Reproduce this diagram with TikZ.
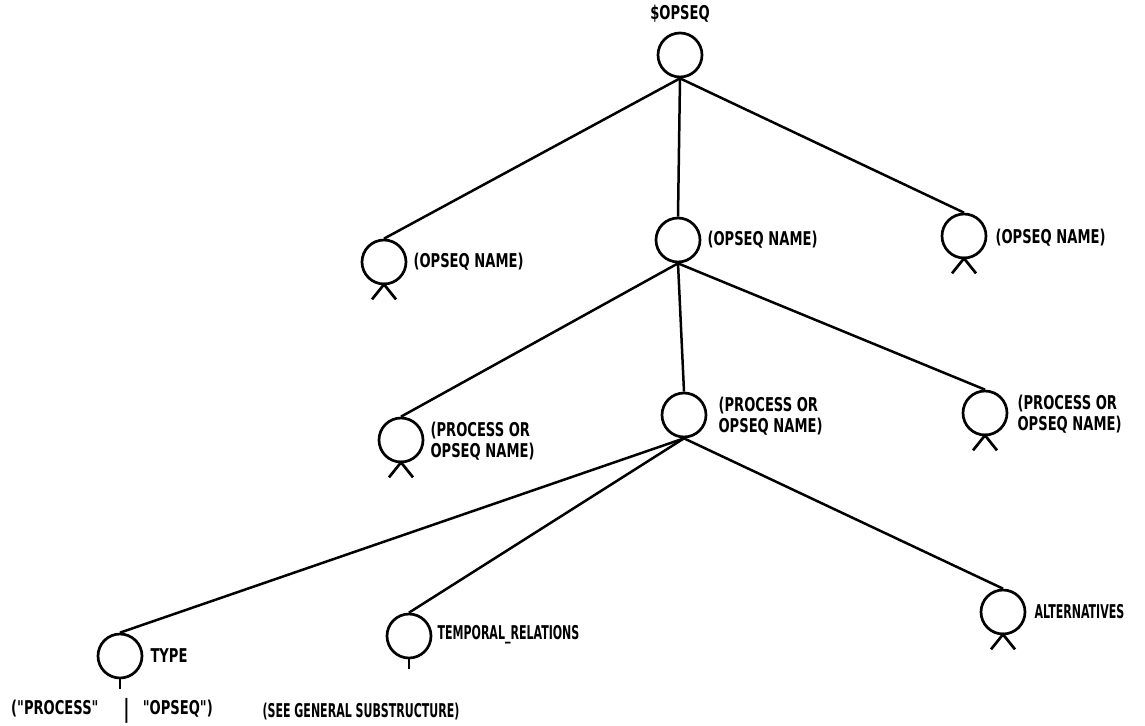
\documentclass[tikz,border=0pt]{standalone}
\usepackage{fontspec}
\newfontfamily\lblfont{DejaVu Sans}[FakeStretch=0.69]
\newfontfamily\lblnarrow{DejaVu Sans}[FakeStretch=0.58]
\begin{document}
\begin{tikzpicture}[x=1pt,y=-1pt,
  vertex/.style={circle,draw,minimum size=44pt,inner sep=0pt,line width=2.7pt},
  lbl/.style={anchor=west,inner sep=0pt,align=left,
    font=\lblfont\bfseries\fontsize{19}{21}\selectfont},
  narrowlbl/.style={lbl,font=\lblnarrow\bfseries\fontsize{19}{21}\selectfont},
  edge/.style={line width=2.5pt},
  leafmark/.style={line width=2.7pt},
]
\useasboundingbox (0,0) rectangle (1145,725);

% tree nodes
\node[vertex] (root) at (680,55) {};
\node[vertex] (oa) at (384,262) {};
\node[vertex] (ob) at (678,240) {};
\node[vertex] (oc) at (964,236) {};
\node[vertex] (pa) at (401,440) {};
\node[vertex] (pb) at (684,415) {};
\node[vertex] (pc) at (985,413) {};
\node[vertex] (type) at (120,656) {};
\node[vertex] (temp) at (409,636) {};
\node[vertex] (alt) at (1003,612) {};

% labels
\node[lbl,anchor=center] (rootlbl) at (680,14) {\$OPSEQ};
\node[lbl] (oalbl) at ([xshift=6pt]oa.east) {(OPSEQ NAME)};
\node[lbl] (oblbl) at ([xshift=6pt]ob.east) {(OPSEQ NAME)};
\node[lbl] (oclbl) at ([xshift=8pt,yshift=-2pt]oc.east) {(OPSEQ NAME)};
\node[lbl] (palbl) at ([xshift=6pt,yshift=-1pt]pa.east) {(PROCESS OR\\ OPSEQ NAME)};
\node[lbl] (pblbl) at ([xshift=11pt,yshift=-1pt]pb.east) {(PROCESS OR\\ OPSEQ NAME)};
\node[lbl] (pclbl) at ([xshift=9pt,yshift=-1pt]pc.east) {(PROCESS OR\\ OPSEQ NAME)};
\node[lbl] (typelbl) at ([xshift=7pt]type.east) {TYPE};
\node[narrowlbl] (templbl) at ([xshift=5pt,yshift=1pt]temp.east) {TEMPORAL\_RELATIONS};
\node[narrowlbl] (altlbl) at ([xshift=8pt]alt.east) {ALTERNATIVES};
\node[lbl,anchor=center] (typeval) at (112,711)
  {("PROCESS"\hspace{1.3em}\raisebox{-0.15em}{\fontsize{25}{25}\selectfont|}\hspace{0.7em}"OPSEQ")};
\node[narrowlbl,anchor=center] (tempval) at (361,712) {(SEE GENERAL SUBSTRUCTURE)};

% connectors
\draw[edge] (root.south) -- (oa.north);
\draw[edge] (root.south) -- (ob.north);
\draw[edge] (root.south) -- (oc.north);
\draw[edge] (ob.south) -- (pa.north);
\draw[edge] (ob.south) -- (pb.north);
\draw[edge] (ob.south) -- (pc.north);
\draw[edge] (pb.south) -- (type.north);
\draw[edge] (pb.south) -- (temp.north);
\draw[edge] (pb.south) -- (alt.north);

% leaf markers
\foreach \n in {oa,oc,pa,pc,alt}
  \draw[leafmark] (\n.south) +(-12,14) -- +(0,-1) -- +(12,14);
% ticks leading to the value texts
\draw[leafmark] (type.south) -- +(0,10);
\draw[leafmark] (temp.south) -- +(0,10);
\end{tikzpicture}
\end{document}
